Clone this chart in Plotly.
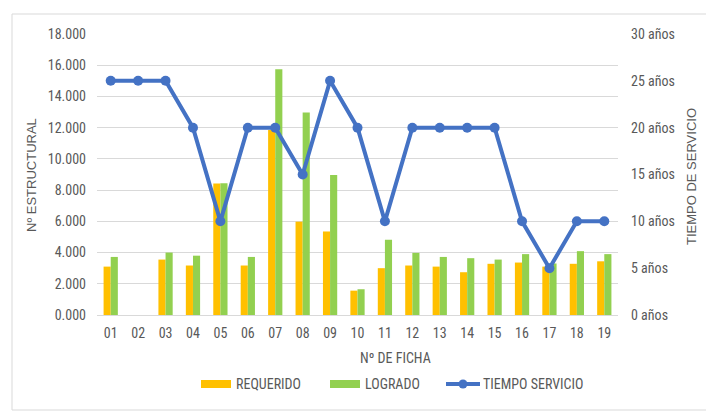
import plotly.graph_objects as go

fichas = ["01","02","03","04","05","06","07","08","09","10","11","12","13","14","15","16","17","18","19"]
requerido = [3100, 0, 3550, 3170, 8420, 3170, 11850, 5980, 5350, 1560, 3000, 3170, 3100, 2740, 3280, 3360, 3100, 3280, 3440]
logrado = [3720, 0, 4000, 3800, 8440, 3720, 15750, 12970, 8970, 1650, 4820, 3980, 3720, 3640, 3550, 3900, 3300, 4090, 3900]
tiempo = [25, 25, 25, 20, 10, 20, 20, 15, 25, 20, 10, 20, 20, 20, 20, 10, 5, 10, 10]

left_ticks = [0, 2000, 4000, 6000, 8000, 10000, 12000, 14000, 16000, 18000]
left_labels = ["0.000", "2.000", "4.000", "6.000", "8.000", "10.000", "12.000", "14.000", "16.000", "18.000"]
right_ticks = [0, 5, 10, 15, 20, 25, 30]
right_labels = ["0 años", "5 años", "10 años", "15 años", "20 años", "25 años", "30 años"]

FONT = "Liberation Sans Narrow, Arial Narrow, Roboto Condensed, Liberation Sans, sans-serif"
GRAY = "#595959"
C_REQ, C_LOG, C_T = "#FFC000", "#92D050", "#4472C4"

fig = go.Figure()
fig.add_trace(go.Bar(x=fichas, y=requerido, name="REQUERIDO", marker_color=C_REQ, marker_line_width=0))
fig.add_trace(go.Bar(x=fichas, y=logrado, name="LOGRADO", marker_color=C_LOG, marker_line_width=0))
fig.add_trace(go.Scatter(x=fichas, y=tiempo, name="TIEMPO SERVICIO", yaxis="y2", mode="lines+markers",
                         line=dict(color=C_T, width=4), marker=dict(color=C_T, size=10)))

# page body has an 8px margin; work in screen coordinates and convert
OFF = 8
SW, SH = 714, 411
W, H = SW - OFF, SH - OFF
PL, PR, PT, PB = 97, 618, 34, 315  # plot area in screen coords
L, R, T, B = PL - OFF, W - (PR - OFF), PT - OFF, H - (PB - OFF)

def px(x):
    return (x - PL) / (PR - PL)

def py(y):
    return (PB - y) / (PB - PT)

def ann(text, x, y, xanchor="center", angle=0, family=FONT, size=14):
    return dict(text=text, x=px(x), y=py(y), xref="paper", yref="paper", showarrow=False,
                xanchor=xanchor, yanchor="middle", textangle=angle,
                font=dict(family=family, size=size, color=GRAY))

legend_y = 384
annotations = [
    ann("Nº DE FICHA", 395, 358),
    ann("Nº ESTRUCTURAL", 31, 175, angle=-90, family="Liberation Sans, sans-serif", size=13),
    ann("TIEMPO DE SERVICIO", 691, 177, angle=-90, family="Liberation Sans, sans-serif", size=13),
    ann("REQUERIDO", 234, legend_y, xanchor="left"),
    ann("LOGRADO", 363, legend_y, xanchor="left"),
    ann("TIEMPO SERVICIO", 481, legend_y, xanchor="left"),
]

shapes = [
    dict(type="rect", xref="paper", yref="paper", x0=px(12), x1=px(711), y0=py(410), y1=py(14),
         line=dict(color="#d9d9d9", width=1), fillcolor="rgba(0,0,0,0)", layer="below"),
    dict(type="rect", xref="paper", yref="paper", x0=px(201), x1=px(231), y0=py(388), y1=py(380),
         line=dict(width=0), fillcolor=C_REQ),
    dict(type="rect", xref="paper", yref="paper", x0=px(330), x1=px(360), y0=py(388), y1=py(380),
         line=dict(width=0), fillcolor=C_LOG),
    dict(type="line", xref="paper", yref="paper", x0=px(446), x1=px(480), y0=py(legend_y), y1=py(legend_y),
         line=dict(width=4, color=C_T)),
    dict(type="circle", xref="paper", yref="paper", x0=px(458.5), x1=px(467.5), y0=py(legend_y + 4.5),
         y1=py(legend_y - 4.5), line=dict(width=0), fillcolor=C_T),
]

fig.update_layout(
    width=W, height=H,
    margin=dict(l=L, r=R, t=T, b=B, autoexpand=False),
    paper_bgcolor="white", plot_bgcolor="white",
    barmode="group", bargap=0.48, bargroupgap=0,
    font=dict(family=FONT, size=13, color=GRAY),
    showlegend=False,
    xaxis=dict(range=[-0.5, 18.5], showgrid=False, showline=False, ticks="", automargin=False,
               ticklabelstandoff=8, tickfont=dict(size=14, color=GRAY)),
    yaxis=dict(range=[0, 18000], tickvals=left_ticks, ticktext=left_labels, showgrid=True,
               gridcolor="#d9d9d9", gridwidth=1.2, zeroline=True, zerolinecolor="#d9d9d9", zerolinewidth=1.2,
               showline=False, ticks="", ticklabelstandoff=10, automargin=False,
               tickfont=dict(size=14, color=GRAY)),
    yaxis2=dict(range=[0, 30], tickvals=right_ticks, ticktext=right_labels, overlaying="y", side="right",
                showgrid=False, zeroline=False, showline=False, ticks="", ticklabelstandoff=12,
                automargin=False, tickfont=dict(size=14, color=GRAY)),
    annotations=annotations,
    shapes=shapes,
)

fig.write_html("out.html")
